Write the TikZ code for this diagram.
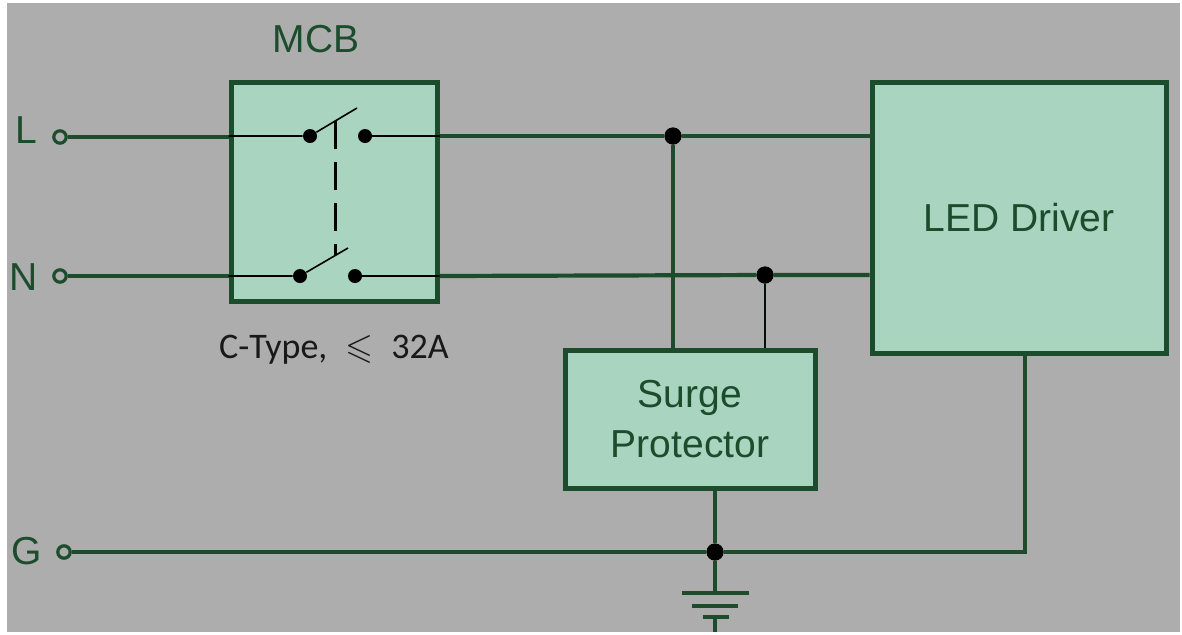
\documentclass[tikz,border=0pt]{standalone}
\usepackage{amssymb}
\usepackage{fontspec}
\setmainfont{Liberation Sans}
\newfontfamily\notefont{Carlito}
\definecolor{darkgreen}{RGB}{27,76,44}
\definecolor{boxfill}{RGB}{169,212,192}
\definecolor{bggray}{RGB}{173,173,173}
\tikzset{
  block/.style={draw=darkgreen, fill=boxfill, line width=2.5pt, align=center,
    text=darkgreen, font=\fontsize{19.5}{25}\selectfont},
  wireline/.style={draw=darkgreen, line width=2.1pt},
  thinwire/.style={draw=black, line width=0.8pt},
  contact/.style={circle, fill=black, inner sep=0pt, minimum size=7pt},
  junction/.style={circle, fill=black, inner sep=0pt, minimum size=8.5pt},
  terminal/.style={circle, draw=darkgreen, fill=bggray, line width=1.6pt, inner sep=0pt, minimum size=6.2pt},
  lbl/.style={text=darkgreen, font=\fontsize{19.5}{25}\selectfont}
}
\begin{document}
\begin{tikzpicture}[x=0.5pt,y=-0.5pt]
\useasboundingbox (0,0) rectangle (1182,634);
% Background
\fill[white] (0,0) rectangle (1182,634);
\fill[bggray] (7,3) rectangle (1180,632);

% Blocks
\node[block, minimum width=103pt, minimum height=109.5pt] (mcb) at (334,191.5) {};
\node[block, minimum width=147pt, minimum height=135.5pt] (led) at (1019,217.5) {LED Driver};
\node[block, minimum width=125pt, minimum height=69pt] (surge) at (690,419) {Surge\\Protector};
\node[lbl] (mcblabel) at (316,39) {MCB};
\node[text=black!90, font=\notefont\fontsize{18}{22}\selectfont] (rating) at (334,350) {C-Type,\enspace$\leqslant$\enspace32A};

% Terminals
\node[terminal] (Lt) at (60,137) {};
\node[terminal] (Nt) at (60,276) {};
\node[terminal] (Gt) at (64,552) {};
\node[lbl] at (26,130) {L};
\node[lbl] at (24,277) {N};
\node[lbl] at (27,551) {G};

% Switch contacts
\node[contact] (l1) at (310,136) {};
\node[contact] (l2) at (365,136) {};
\node[contact] (n1) at (300,276) {};
\node[contact] (n2) at (355,276) {};
\coordinate (lblade) at (357,108);
\coordinate (nblade) at (348,248);

% Junctions
\node[junction] (jL) at (673,136) {};
\node[junction] (jN) at (765,275) {};
\node[junction] (jG) at (715,552) {};

% Line and neutral
\draw[wireline] (Lt.east) -- (Lt.east -| mcb.west);
\draw[thinwire] (l1 -| mcb.west) -- (l1) -- (lblade);
\draw[thinwire] (l2) -- (l2 -| mcb.east);
\draw[wireline] (l2 -| mcb.east) -- (jL) -- (jL -| led.west);
\draw[wireline] (Nt.east) -- (Nt.east -| mcb.west);
\draw[thinwire] (n1 -| mcb.west) -- (n1) -- (nblade);
\draw[thinwire] (n2) -- (n2 -| mcb.east);
\draw[wireline] (n2 -| mcb.east) -- (jN) -- (jN -| led.west);

% Mechanical link
\draw[black, line width=1.5pt, dash pattern=on 14pt off 6.5pt] (335,121) -- (335,255);

% Surge protector
\draw[wireline] (jL) -- (jL |- surge.north);
\draw[black!80!darkgreen, line width=1.4pt] (jN) -- (jN |- surge.north);
\draw[wireline] (jG |- surge.south) -- (jG);

% Ground
\draw[wireline] (Gt.east) -- (jG) -- (1025,552) -- (1025,0 |- led.south);
\draw[wireline] (jG) -- (715,593);
\draw[wireline] (682,593) -- (749,593);
\draw[wireline] (692,606) -- (738,606);
\draw[wireline] (703,617) -- (729,617);
\draw[wireline] (715,617) -- (715,632);

% Redraw dots on top
\foreach \n in {jL,jN,jG} \fill[black] (\n) circle (4.25pt);
\end{tikzpicture}
\end{document}
